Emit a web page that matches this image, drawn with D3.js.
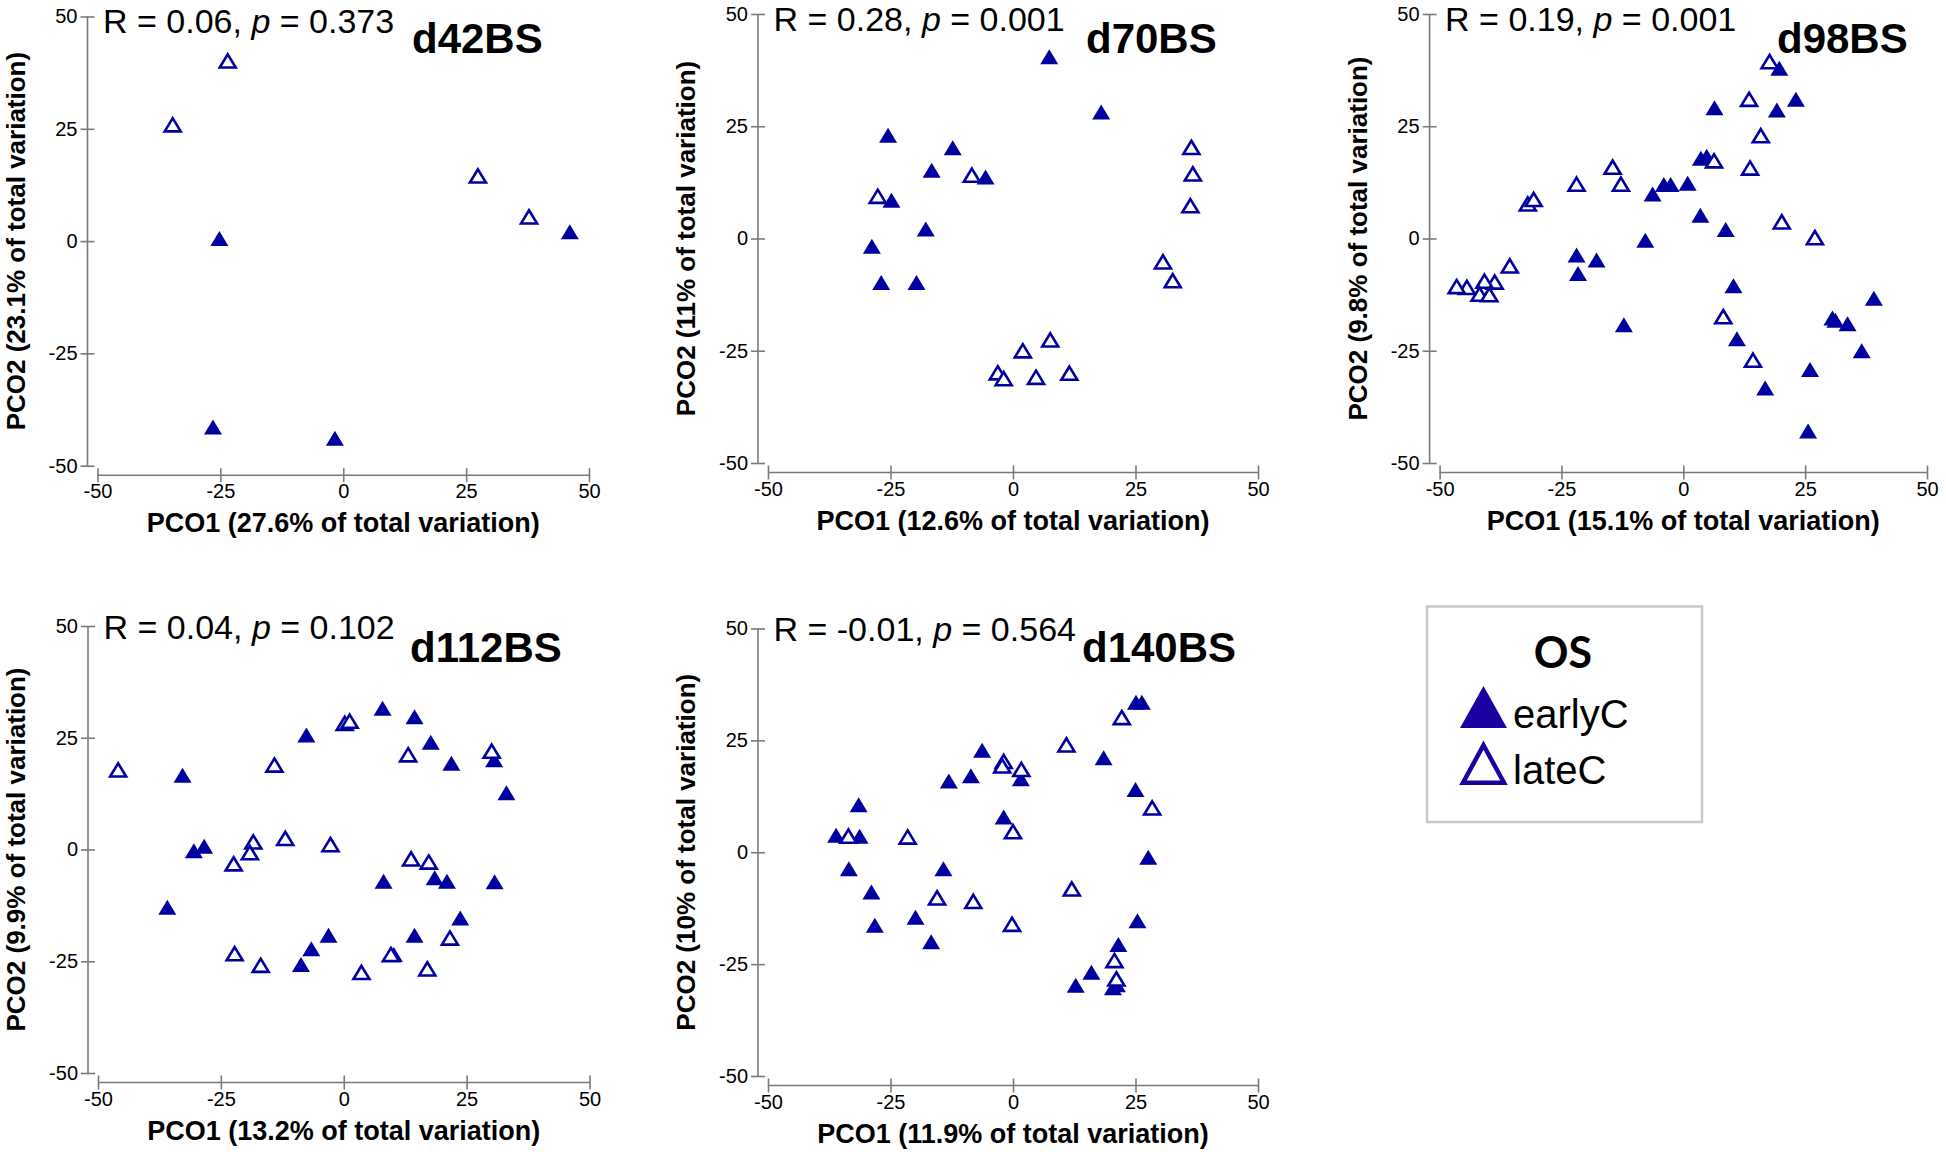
<!DOCTYPE html>
<html><head><meta charset="utf-8">
<script src="https://cdn.jsdelivr.net/npm/d3@7"></script>
<style>body{margin:0;background:#fff} svg{display:block}</style>
</head><body>
<svg id="c" width="1946" height="1152"></svg>
<script>
// ---------- DATA ----------
const panelNames = ["d42BS", "d70BS", "d98BS", "d112BS", "d140BS"];
const rValues = ["0.06", "0.28", "0.19", "0.04", "-0.01"];
const pValues = ["0.373", "0.001", "0.001", "0.102", "0.564"];
const pco1Pct = ["27.6%", "12.6%", "15.1%", "13.2%", "11.9%"];
const pco2Pct = ["23.1%", "11%", "9.8%", "9.9%", "10%"];
const tickValues = [-50, -25, 0, 25, 50];
const tickLabels = ["-50", "-25", "0", "25", "50"];
const groups = ["earlyC", "lateC"];
const legendTitle = "OS";

const d42Early = [[-25.2,0.6],[46.1,2.1],[-26.5,-41.4],[-1.7,-43.9]];
const d42Late = [[-23.5,40.1],[-34.7,25.9],[27.4,14.5],[37.8,5.4]];

const d70Early = [[7.4,40.5],[18.0,28.2],[-25.5,23.0],[-12.3,20.2],[-16.6,15.2],[-5.6,13.7],[-24.8,8.5],[-17.8,2.1],[-28.8,-1.7],[-26.9,-9.8],[-19.7,-9.8]];
const d70Late = [[-27.6,9.4],[-8.4,14.1],[36.4,20.3],[36.7,14.4],[36.2,7.3],[30.6,-5.2],[32.6,-9.4],[7.6,-22.6],[2.0,-25.0],[-3.1,-29.9],[-1.9,-31.2],[4.7,-30.9],[11.5,-30.0]];

const d98Early = [[19.7,37.9],[23.1,31.0],[6.4,29.1],[19.2,28.6],[3.6,17.9],[4.8,18.3],[-4.0,12.0],[-2.6,12.0],[0.9,12.3],[-6.3,9.9],[3.5,5.2],[8.7,2.0],[-7.8,-0.4],[-21.9,-3.7],[-17.8,-4.8],[-21.6,-7.8],[10.3,-10.5],[-12.2,-19.2],[11.0,-22.3],[30.6,-17.7],[31.2,-18.2],[33.7,-19.0],[39.1,-13.3],[36.6,-25.0],[26.0,-29.2],[16.8,-33.3],[25.6,-42.9]];
const d98Late = [[17.7,39.4],[13.5,31.0],[15.9,22.9],[6.3,17.3],[13.7,15.7],[-14.5,15.9],[-12.8,12.1],[-21.9,12.1],[-31.9,7.7],[-30.7,8.7],[20.2,3.7],[27.0,0.2],[-35.6,-6.1],[-38.7,-9.7],[-40.8,-9.5],[-41.8,-12.4],[-39.8,-12.5],[-44.4,-10.9],[-46.5,-10.7],[8.2,-17.4],[14.3,-27.1]];

const d112Early = [[7.9,31.6],[14.4,29.7],[-7.6,25.6],[17.7,24.0],[21.9,19.3],[30.6,20.1],[33.1,12.7],[-32.8,16.6],[-30.5,-0.3],[-28.4,0.7],[8.1,-7.1],[18.5,-6.3],[21.0,-7.1],[30.7,-7.2],[-35.9,-12.9],[23.7,-15.3],[-3.1,-19.2],[14.4,-19.2],[-6.6,-22.2],[-8.7,-25.7],[10.2,-23.5]];
const d112Late = [[-45.9,17.8],[-14.1,18.9],[0.2,28.2],[1.2,28.7],[13.1,21.2],[30.1,22.0],[-18.4,1.7],[-19.1,-0.7],[-22.4,-3.2],[-11.9,2.5],[-2.7,1.1],[13.7,-2.1],[17.3,-2.8],[21.6,-19.8],[-22.2,-23.3],[-16.9,-25.9],[9.6,-23.5],[3.6,-27.5],[17.0,-26.7]];

const d140Early = [[25.1,33.5],[26.3,33.5],[18.5,21.1],[-6.3,22.8],[-8.6,17.1],[-13.1,15.9],[1.6,16.4],[25.0,14.0],[-1.9,7.9],[-31.5,10.6],[-36.1,3.8],[-31.3,3.6],[-33.5,-3.7],[27.6,-1.1],[-14.2,-3.7],[-28.9,-8.9],[-28.2,-16.3],[-19.9,-14.5],[-16.7,-20.0],[25.4,-15.3],[21.5,-20.6],[16.0,-26.8],[12.8,-29.7],[20.4,-30.3],[21.2,-29.6]];
const d140Late = [[22.2,30.1],[10.9,24.0],[-1.9,20.3],[-2.2,19.3],[1.7,18.5],[28.4,9.9],[0.0,4.6],[-33.6,3.6],[-21.5,3.4],[-15.5,-10.2],[-8.1,-11.0],[-0.2,-16.1],[12.0,-8.2],[20.7,-24.2],[21.1,-28.3]];

const earlySeries = [d42Early, d70Early, d98Early, d112Early, d140Early];
const lateSeries = [d42Late, d70Late, d98Late, d112Late, d140Late];

// ---------- LAYOUT ----------
const layout = [
  {x0: 97.5, x1: 589,  y0: 465.7, y1: 16.5, rDy: 16.5, labelX: 412,  labelDy: 36},
  {x0: 768,  x1: 1258, y0: 463,   y1: 14,   rDy: 17,   labelX: 1086, labelDy: 38.5},
  {x0: 1439.6, x1: 1927, y0: 463, y1: 14,   rDy: 17,   labelX: 1777, labelDy: 38.5},
  {x0: 98,   x1: 589.5, y0: 1073, y1: 626,  rDy: 12.5, labelX: 410,  labelDy: 36},
  {x0: 768,  x1: 1258, y0: 1076,  y1: 628.5, rDy: 12.5, labelX: 1082, labelDy: 33.5}
];

const markerColor = "#0000a0";
const axisColor = "#7a7a7a";
const fontMain = "'Liberation Sans', Arial, sans-serif";

const svg = d3.select("#c");

function triPath(w, h) {
  return `M0,${-h/2}L${w/2},${h/2}L${-w/2},${h/2}Z`;
}
const fmtTick = v => tickLabels[tickValues.indexOf(v)];

panelNames.forEach((name, i) => {
  const L = layout[i];
  const x = d3.scaleLinear().domain([-50, 50]).range([L.x0, L.x1]);
  const y = d3.scaleLinear().domain([-50, 50]).range([L.y0, L.y1]);
  const g = svg.append("g");
  const yAxisX = L.x0 - 10;
  const xAxisY = L.y0 + 9.5;

  // Y axis
  const ya = g.append("g").attr("transform", `translate(${yAxisX + 7},0)`)
    .call(d3.axisLeft(y).tickValues(tickValues).tickSize(14).tickPadding(3).tickFormat(fmtTick));
  ya.select(".domain").remove();
  g.append("line").attr("x1", yAxisX).attr("x2", yAxisX).attr("y1", y(50)).attr("y2", y(-50))
    .attr("stroke", axisColor).attr("stroke-width", 1.6);

  // X axis
  const xa = g.append("g").attr("transform", `translate(0,${xAxisY - 7})`)
    .call(d3.axisBottom(x).tickValues(tickValues).tickSize(14).tickPadding(2).tickFormat(fmtTick));
  xa.select(".domain").remove();
  g.append("line").attr("x1", x(-50)).attr("x2", x(50)).attr("y1", xAxisY).attr("y2", xAxisY)
    .attr("stroke", axisColor).attr("stroke-width", 1.6);

  [ya, xa].forEach(a => {
    a.selectAll(".tick line").attr("stroke", axisColor).attr("stroke-width", 1.6);
    a.selectAll(".tick text").attr("fill", "#000").style("font-family", fontMain).style("font-size", "20px");
  });

  // axis titles
  g.append("text")
    .attr("transform", `translate(${yAxisX - 63},${y(0)}) rotate(-90)`)
    .attr("text-anchor", "middle")
    .style("font-family", fontMain).style("font-weight", "bold").style("font-size", "26px")
    .text(`PCO2 (${pco2Pct[i]} of total variation)`);
  g.append("text")
    .attr("x", x(0)).attr("y", xAxisY + 57)
    .attr("text-anchor", "middle")
    .style("font-family", fontMain).style("font-weight", "bold").style("font-size", "27px")
    .text(`PCO1 (${pco1Pct[i]} of total variation)`);

  // R / p text
  const rt = g.append("text").attr("x", L.x0 + 5.5).attr("y", y(50) + L.rDy)
    .style("font-family", fontMain).style("font-size", "34px").style("white-space", "pre");
  rt.append("tspan").text(`R = ${rValues[i]}, `);
  rt.append("tspan").style("font-style", "italic").text("p");
  rt.append("tspan").text(` = ${pValues[i]}`);

  // panel label
  g.append("text").attr("x", L.labelX).attr("y", y(50) + L.labelDy)
    .style("font-family", fontMain).style("font-weight", "bold").style("font-size", "42px")
    .text(name);

  // points
  g.append("g").selectAll("path").data(earlySeries[i]).join("path")
    .attr("transform", d => `translate(${x(d[0])},${y(d[1])})`)
    .attr("d", triPath(18, 15))
    .attr("fill", markerColor);
  g.append("g").selectAll("path").data(lateSeries[i]).join("path")
    .attr("transform", d => `translate(${x(d[0])},${y(d[1])})`)
    .attr("d", triPath(16, 13.2))
    .attr("fill", "#fff").attr("stroke", markerColor).attr("stroke-width", 2.6)
    .attr("stroke-linejoin", "miter");
});

// ---------- LEGEND ----------
const lg = svg.append("g");
lg.append("rect").attr("x", 1427).attr("y", 606.5).attr("width", 275).attr("height", 215.5)
  .attr("fill", "#fff").attr("stroke", "#c8c8c8").attr("stroke-width", 2.5);
lg.append("text").attr("x", 1563).attr("y", 668).attr("text-anchor", "middle")
  .style("font-family", "Lato, 'Open Sans', sans-serif").style("font-weight", "bold").style("font-size", "43px")
  .text(legendTitle);
const legendColor = "#1a00a0";
lg.append("path").attr("transform", "translate(1483.5,707)").attr("d", triPath(47, 42)).attr("fill", legendColor);
lg.append("path").attr("transform", "translate(1483.5,764)").attr("d", triPath(41, 37.5))
  .attr("fill", "#fff").attr("stroke", legendColor).attr("stroke-width", 4.5);
lg.selectAll("text.item").data(groups).join("text").attr("class", "item")
  .attr("x", 1513).attr("y", (d, k) => k === 0 ? 727.5 : 784)
  .style("font-family", fontMain).style("font-size", "40px")
  .text(d => d);
</script>
</body></html>
